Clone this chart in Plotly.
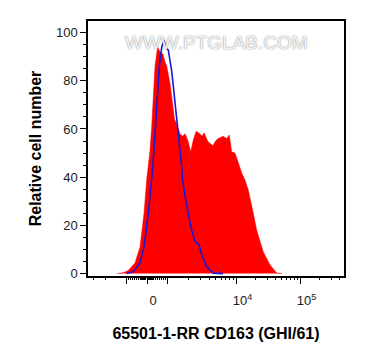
import numpy as np
import plotly.graph_objects as go

# Biexponential display-channel positions (axis units) and relative counts
red_x = [-0.469, -0.375, -0.297, -0.1875, -0.109, -0.047, -0.005, 0.047, 0.073, 0.098,
         0.125, 0.150, 0.167, 0.185, 0.203, 0.234, 0.25, 0.280, 0.308, 0.359, 0.402,
         0.430, 0.464, 0.516, 0.558, 0.594, 0.641, 0.683, 0.719, 0.766, 0.800, 0.828,
         0.860, 0.891, 0.953, 1.000, 1.031, 1.070, 1.109, 1.150, 1.188, 1.245, 1.286,
         1.323, 1.375, 1.427, 1.480, 1.531, 1.583, 1.661, 1.714, 1.817, 1.922, 2.027, 2.109]
red_y = [0, 0.3, 1.2, 4.4, 11, 25, 39, 51, 61, 72,
         86, 91, 94, 93, 92, 91.5, 91, 88, 86, 79, 69,
         64, 62, 58, 57, 58, 55, 50.5, 55, 59, 58.5, 58,
         57, 58.4, 54.7, 53.5, 53, 55, 56, 56.5, 57, 56, 57.5,
         50.5, 50, 46, 41.7, 38.8, 34.6, 25, 18, 9, 3.6, 0.2, 0]

blue_x = [-0.317, -0.214, -0.109, -0.047, 0.020, 0.073, 0.089, 0.125, 0.161, 0.192,
          0.230, 0.266, 0.290, 0.308, 0.333, 0.386, 0.4375, 0.489, 0.542, 0.558,
          0.594, 0.645, 0.698, 0.75, 0.8125, 0.855, 0.933, 1.036, 1.1875]
blue_y = [0, 0.8, 4.4, 11, 25, 39, 44, 58, 72, 86,
          94, 97, 94, 93.5, 92.7, 84, 72, 58, 44, 38.8,
          32, 25, 18, 13.3, 12, 7.8, 2.9, 0.2, 0]

major_vals = [-1000, 0, 1000, 1e4, 1e5]
major_text = ["", "0", "", "10<sup>4</sup>", "10<sup>5</sup>"]
y_ticks = [0, 20, 40, 60, 80, 100]


def biex(v):
    """Map an intensity to the biexponential display axis."""
    v = float(v)
    lin = 0.32
    if abs(v) <= 1000:
        return v / 1000 * lin
    d = np.interp(np.log10(abs(v)), [3, 4, 5, 6], [0, 1.078, 2.078, 3.078])
    return float(np.sign(v) * (lin + d))


minor_vals = []
for s in (-1, 1):
    for m in list(range(100, 1000, 100)) + [50, 150, 250]:
        minor_vals.append(s * m)
    for m in range(2, 10):
        minor_vals.append(s * m * 1000)
for m in range(2, 10):
    minor_vals.append(m * 1e4)
    minor_vals.append(m * 1e5)

x_range = [-0.922, 3.078]
minor_pos = [biex(v) for v in minor_vals if x_range[0] < biex(v) < x_range[1]]

fig = go.Figure()
fig.add_trace(go.Scatter(x=red_x, y=red_y, mode="lines", fill="tozeroy",
                         fillcolor="#ff0000", line=dict(color="#ff0000", width=0.5),
                         hoverinfo="skip", showlegend=False))
fig.add_trace(go.Scatter(x=blue_x, y=blue_y, mode="lines",
                         line=dict(color="#1818d8", width=1.6),
                         hoverinfo="skip", showlegend=False))
fig.add_trace(go.Scatter(x=[x_range[0]], y=[-5], xaxis="x2", mode="markers",
                         marker=dict(opacity=0), hoverinfo="skip", showlegend=False))

font = "Arial, Liberation Sans, sans-serif"
fig.update_layout(
    width=357, height=352,
    margin=dict(l=80, r=21, t=13, b=84),
    plot_bgcolor="white", paper_bgcolor="white",
    font=dict(family=font, color="#222222"),
    xaxis=dict(range=x_range, tickvals=[biex(v) for v in major_vals], ticktext=major_text,
               ticks="outside", ticklen=6, tickwidth=1.3, tickcolor="black",
               ticklabelshift=6, ticklabelstandoff=6,
               showline=True, linecolor="black", linewidth=1.5, mirror=True,
               showgrid=False, zeroline=False, tickfont=dict(size=13),
               title=dict(text="<b>65501-1-RR CD163 (GHI/61)</b>",
                          font=dict(size=16, color="black"), standoff=20)),
    xaxis2=dict(range=x_range, overlaying="x", side="bottom", tickvals=minor_pos,
                ticks="outside", ticklen=3, tickwidth=1, tickcolor="black",
                showticklabels=False, showline=False, showgrid=False, zeroline=False),
    yaxis=dict(range=[-1, 104.8], tickvals=y_ticks,
               ticks="outside", ticklen=6, tickwidth=1.3, tickcolor="black",
               minor=dict(dtick=5, ticklen=3, tickcolor="black", ticks="outside"),
               showline=True, linecolor="black", linewidth=1.5, mirror=True,
               showgrid=False, zeroline=False, tickfont=dict(size=13),
               title=dict(text="<b>Relative cell number</b>",
                          font=dict(size=16, color="black"), standoff=10)),
    annotations=[dict(text="WWW.PTGLAB.COM", xref="paper", yref="paper",
                      x=0.5, y=0.916, xanchor="center", yanchor="middle",
                      showarrow=False,
                      font=dict(family="Liberation Sans Narrow, Arial Narrow, sans-serif",
                                size=19, color="#f4f4f4",
                                shadow="0px 0px 1.5px #707070"))],
)

fig.write_html("out.html")
